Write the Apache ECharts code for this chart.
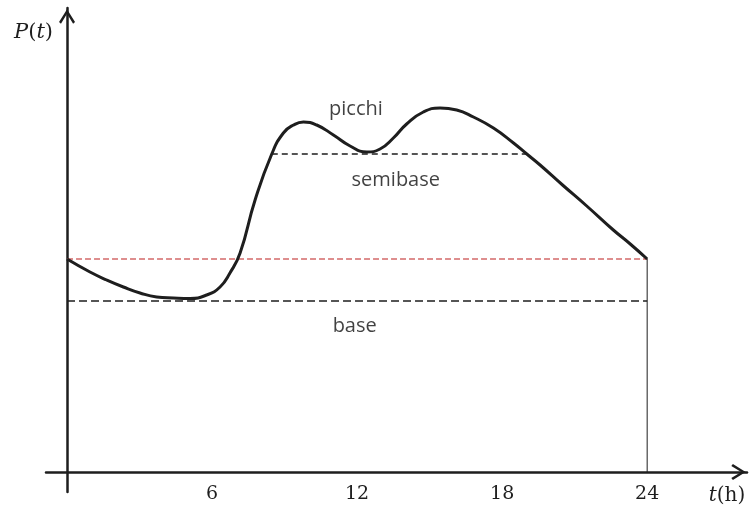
<!DOCTYPE html>
<html>
<head>
<meta charset="utf-8">
<script src="https://cdn.jsdelivr.net/npm/echarts@6/dist/echarts.min.js"></script>
<style>html,body{margin:0;padding:0;background:#fff}#c{width:751px;height:509px}</style>
</head>
<body>
<div id="c"></div>
<script>
// Load curve P(t): hours and values (arbitrary units)
var curveT = [0, 0.95, 1.64, 2.33, 3.02, 3.71, 4.40, 5.09, 5.78, 6.33, 6.74, 7.16, 7.78, 8.47, 8.95, 9.37, 9.78, 10.33, 11.02, 11.71, 12.40, 12.95, 13.50, 14.05, 14.74, 15.43, 16.12, 16.81, 17.64, 18.47, 19.02, 19.57, 20.5, 21.5, 22.6, 23.3, 24];
var curveP = [213, 200, 192, 185, 179, 175, 174, 173.5, 177, 185, 199, 219, 272, 318, 339, 347, 350, 347, 337, 326, 320, 323, 334, 348, 360, 364, 362, 355, 344, 329, 318, 307, 287, 266, 242, 228, 213];

// Reference levels
var startLevel = 213;    // red dashed line (P at t=0 / t=24)
var baseLevel = 171;     // "base"
var semibaseLevel = 318; // "semibase"
var semibaseT = [8.47, 19.02];
var dayEnd = 24;

// Tick labels
var xTicks = [6, 12, 18, 24];

// Annotations
var noteText = ['picchi', 'semibase', 'base'];
var noteT = [11.95, 13.6, 11.9];
var noteP = [363, 292, 146];

var curveData = curveT.map(function (t, i) { return [t, curveP[i]]; });
var noteData = noteText.map(function (s, i) { return { value: [noteT[i], noteP[i]], name: s }; });

var chevron = 'path://M10 0 L20 16 L17.6 18 L10 5.6 L2.4 18 L0 16 Z';
var ink = '#1e1e1e';

var chart = echarts.init(document.getElementById('c'), null, { renderer: 'canvas' });
chart.setOption({
  backgroundColor: '#ffffff',
  animation: false,
  grid: { left: 46, right: 4, top: 8, bottom: 17, containLabel: false, outerBoundsMode: 'none' },
  xAxis: {
    type: 'value', min: -0.87, max: 28.13,
    name: '{i|t}(h)',
    nameLocation: 'end', nameGap: -20,
    nameTextStyle: {
      fontFamily: 'DejaVu Serif', fontSize: 20, color: ink,
      align: 'center', verticalAlign: 'top', padding: [14, 0, 0, 0],
      rich: { i: { fontFamily: 'DejaVu Serif', fontSize: 20, fontStyle: 'italic', color: ink } }
    },
    axisLine: { show: true, onZero: true, symbol: ['none', chevron], symbolSize: [16, 17], symbolOffset: [0, -8.5],
      lineStyle: { color: ink, width: 2.5 } },
    axisTick: { show: false },
    splitLine: { show: false },
    axisLabel: { show: true, customValues: xTicks, color: ink, fontFamily: 'DejaVu Serif', fontSize: 19, margin: -7 }
  },
  yAxis: {
    type: 'value', min: -20, max: 464,
    name: '{i|P}({i|t})',
    nameLocation: 'end', nameGap: -25,
    nameTextStyle: {
      fontFamily: 'DejaVu Serif', fontSize: 21, color: ink,
      align: 'right', verticalAlign: 'middle', padding: [0, 14, 0, 0],
      rich: { i: { fontFamily: 'DejaVu Serif', fontSize: 21, fontStyle: 'italic', color: ink } }
    },
    axisLine: { show: true, onZero: true, symbol: ['none', chevron], symbolSize: [16, 17], symbolOffset: [0, -8.5],
      lineStyle: { color: ink, width: 2.5 } },
    axisTick: { show: false },
    splitLine: { show: false },
    axisLabel: { show: false }
  },
  series: [
    {
      type: 'line', silent: true, symbol: 'none', z: 3,
      data: [[0, startLevel], [dayEnd, startLevel]],
      lineStyle: { color: '#d46a6a', width: 1.5, type: [6, 3] }
    },
    {
      type: 'line', silent: true, symbol: 'none', z: 3,
      data: [[0, baseLevel], [dayEnd, baseLevel]],
      lineStyle: { color: ink, width: 1.5, type: [8, 4] }
    },
    {
      type: 'line', silent: true, symbol: 'none', z: 3,
      data: [[semibaseT[0], semibaseLevel], [semibaseT[1], semibaseLevel]],
      lineStyle: { color: ink, width: 1.3, type: [6, 4] }
    },
    {
      type: 'line', silent: true, symbol: 'none', z: 3,
      data: [[dayEnd, 0], [dayEnd, startLevel]],
      lineStyle: { color: ink, width: 1 }
    },
    {
      type: 'line', silent: true, symbol: 'none', smooth: 0.5, z: 5,
      data: curveData,
      lineStyle: { color: ink, width: 3 }
    },
    {
      type: 'scatter', silent: true, symbolSize: 0, z: 6,
      data: noteData,
      label: { show: true, position: 'inside', formatter: '{b}', color: '#111', textBorderWidth: 0,
        fontFamily: 'Open Sans', fontSize: 20 }
    }
  ]
});
</script>
</body>
</html>
